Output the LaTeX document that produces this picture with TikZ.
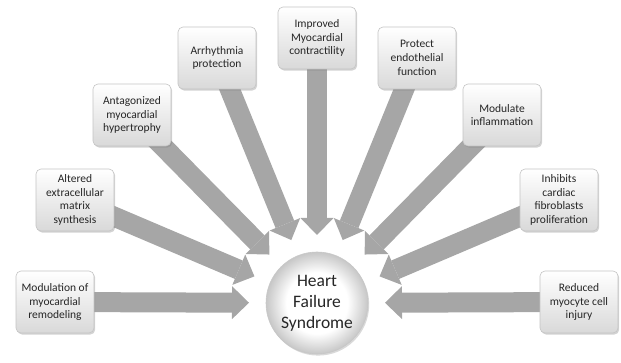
\documentclass[tikz,border=0pt]{standalone}
\usepackage{fontspec}
\setmainfont{Carlito}
\usetikzlibrary{arrows.meta,calc,shadows,backgrounds}
\definecolor{arrowgray}{HTML}{A6A6A6}
\definecolor{boxedge}{HTML}{C4C4C4}
\definecolor{txt}{HTML}{262626}
\pgfdeclareradialshading{hfball}{\pgfpoint{0bp}{0bp}}{color(0bp)=(white); color(15bp)=(white); color(25bp)=(black!22); color(50bp)=(black!22)}
\tikzset{
  effect/.style={draw=boxedge, line width=0.6pt, rounded corners=5pt,
    minimum width=78pt, minimum height=62pt, inner sep=2pt, align=center,
    top color=white, bottom color=black!15, text=txt,
    font=\fontsize{11.5}{13.8}\selectfont,
    drop shadow={shadow xshift=1.2pt, shadow yshift=-1.6pt, opacity=0.35}},
  hub/.style={circle, draw=black!22, line width=0.6pt, minimum size=102pt,
    shade, shading=hfball, align=center, text=txt,
    font=\fontsize{17.5}{21}\selectfont,
    drop shadow={shadow xshift=1.2pt, shadow yshift=-1.6pt, opacity=0.3}},
  flow/.style={draw=arrowgray, line width=20pt,
    -{Triangle[width=33pt,length=17pt,line width=0pt]}}
}
\begin{document}
\begin{tikzpicture}[x=1pt,y=-1pt]
\useasboundingbox (0,0) rectangle (621,363);
\node[hub] (hub) at (317,303) {Heart\\Failure\\Syndrome};
\node[effect] (b1) at (55,302) {Modulation of\\myocardial\\remodeling};
\node[effect] (b2) at (75,200) {Altered\\extracellular\\matrix\\synthesis};
\node[effect] (b3) at (132,115) {Antagonized\\myocardial\\hypertrophy};
\node[effect] (b4) at (217,58) {Arrhythmia\\protection};
\node[effect] (b5) at (317,38) {Improved\\Myocardial\\contractility};
\node[effect] (b6) at (417,58) {Protect\\endothelial\\function};
\node[effect] (b7) at (502,115) {Modulate\\inflammation};
\node[effect] (b8) at (559,200) {Inhibits\\cardiac\\fibroblasts\\proliferation};
\node[effect] (b9) at (579,302) {Reduced\\myocyte cell\\injury};
\begin{scope}[on background layer]
\foreach \b in {b1,b2,b3,b4,b5,b6,b7,b8,b9}
  \draw[flow] (\b.center) -- ($(hub.center)!68pt!(\b.center)$);
\end{scope}
\end{tikzpicture}
\end{document}
